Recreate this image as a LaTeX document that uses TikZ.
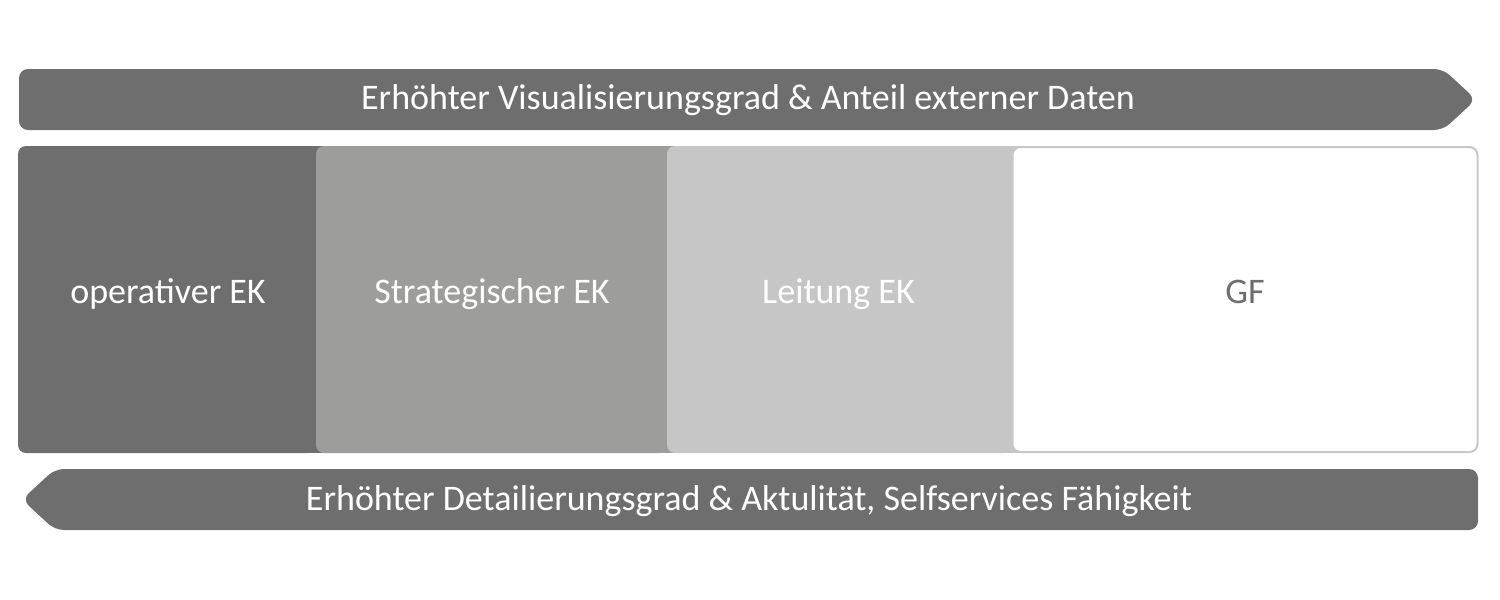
\documentclass[tikz,border=0pt]{standalone}
\usepackage{fontspec}
\setmainfont{Carlito}
\definecolor{dk}{HTML}{6E6E6E}
\definecolor{md}{HTML}{9D9D9C}
\definecolor{lt}{HTML}{C6C6C6}
\definecolor{bd}{HTML}{C8C8C8}
\begin{document}
\begin{tikzpicture}[x=1pt,y=-1pt,
  txt/.style={font=\fontsize{36}{42}\selectfont, text=white, inner sep=0pt, anchor=base},
  arrowshape/.style={fill=dk, rounded corners=9pt},
  box/.style={rounded corners=8pt, inner sep=0pt, minimum height=307pt}]
\useasboundingbox (0,0) rectangle (1500,600);
% top arrow
\fill[arrowshape] (19,69) -- (1443,69) -- (1476,99.5) -- (1443,130) -- (19,130) -- cycle;
\node[txt] (toptext) at (748,109.5) {Erhöhter Visualisierungsgrad \& Anteil externer Daten};
% boxes
\node[box, fill=dk, minimum width=298pt] (b1) at (167,299.5) {};
\fill[dk] (300,146) rectangle (330,453);
\node[box, fill=md, minimum width=351pt] (b2) at (491.5,299.5) {};
\fill[md] (650,146) rectangle (680,453);
\node[box, fill=lt, minimum width=345pt] (b3) at (839.5,299.5) {};
\fill[lt] (995,146) rectangle (1025,453);
\node[box, fill=white, draw=bd, line width=2pt, minimum width=465pt, minimum height=305pt] (b4) at (1245,299.5) {};
\node[txt] (t1) at (168,303.5) {operativer EK};
\node[txt] (t2) at (492,303.5) {Strategischer EK};
\node[txt] (t3) at (838.5,303.5) {Leitung EK};
\node[txt, text=dk] (t4) at (1245,303.5) {GF};
% bottom arrow
\fill[arrowshape] (1478,469) -- (55,469) -- (22,499.5) -- (55,530) -- (1478,530) -- cycle;
\node[txt] (bottext) at (749,510.5) {Erhöhter Detailierungsgrad \& Aktulität, Selfservices Fähigkeit};
\end{tikzpicture}
\end{document}
